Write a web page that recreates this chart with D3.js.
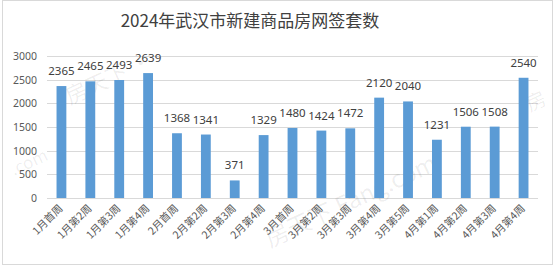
<!DOCTYPE html>
<html>
<head>
<meta charset="utf-8">
<script src="https://cdn.jsdelivr.net/npm/d3@7"></script>
<style>
  body { margin: 0; background: #fff; }
  svg { display: block; }
</style>
</head>
<body>
<div id="chart"></div>
<script>
// données
const titre = "2024年武汉市新建商品房网签套数";
const semaines = ["1月首周", "1月第2周", "1月第3周", "1月第4周", "2月首周", "2月第2周",
  "2月第3周", "2月第4周", "3月首周", "3月第2周", "3月第3周", "3月第4周", "3月第5周",
  "4月第1周", "4月第2周", "4月第3周", "4月第4周"];
const valeurs = [2365, 2465, 2493, 2639, 1368, 1341, 371, 1329, 1480, 1424, 1472, 2120, 2040,
  1231, 1506, 1508, 2540];
const ticksY = [0, 500, 1000, 1500, 2000, 2500, 3000];

const width = 555,
  height = 268;

const svg = d3.select("#chart").append("svg")
  .attr("width", width)
  .attr("height", height);

// cadre du graphique
svg.append("rect")
  .attr("x", 2.5).attr("y", 0.5)
  .attr("width", 550).attr("height", 264)
  .attr("fill", "#fff")
  .attr("stroke", "#d9d9d9");

// titre
svg.append("text")
  .attr("x", 250).attr("y", 27)
  .attr("text-anchor", "middle")
  .style("font-family", "'Noto Sans CJK SC', sans-serif")
  .style("font-size", "17px")
  .attr("fill", "#404040")
  .text(titre);

const x = d3.scaleBand()
  .domain(semaines)
  .range([47, 538])
  .paddingInner(0.66)
  .paddingOuter(0.33);

const y = d3.scaleLinear()
  .domain([0, 3000])
  .range([198, 56]);

// grille
svg.append("g")
  .selectAll("line")
  .data(ticksY)
  .enter()
  .append("line")
  .attr("x1", 47).attr("x2", 538)
  .attr("y1", d => Math.round(y(d)) + 0.5)
  .attr("y2", d => Math.round(y(d)) + 0.5)
  .attr("stroke", "#d9d9d9");

// axe Y
const axeY = svg.append("g")
  .attr("transform", "translate(37,0)")
  .call(d3.axisLeft(y).tickValues(ticksY).tickFormat(d3.format("d")).tickSize(0).tickPadding(0));
axeY.select(".domain").remove();
axeY.selectAll("text")
  .style("font-family", "'Noto Sans', sans-serif")
  .style("font-size", "10.5px")
  .attr("fill", "#595959");

// filigrane
const wm = svg.append("g")
  .style("font-family", "'Noto Sans CJK SC', sans-serif")
  .attr("fill", "#000")
  .attr("fill-opacity", 0.07);
wm.append("text").attr("transform", "translate(270,248) rotate(-25)")
  .style("font-size", "24px").text("房天下 Fang.com");
wm.append("text").attr("transform", "translate(70,105) rotate(-25)")
  .style("font-size", "22px").text("房天下 ·");
wm.append("text").attr("transform", "translate(14,176) rotate(-25)")
  .style("font-size", "17px").text(".com");
wm.append("text").attr("transform", "translate(530,112) rotate(-25)")
  .style("font-size", "20px").text("房");

// barres
svg.append("g")
  .selectAll("rect")
  .data(valeurs)
  .enter()
  .append("rect")
  .attr("x", (d, i) => x(semaines[i]))
  .attr("y", d => y(d))
  .attr("width", x.bandwidth())
  .attr("height", d => y(0) - y(d))
  .attr("fill", "#5b9bd5");

// étiquettes de valeurs
svg.append("g")
  .selectAll("text")
  .data(valeurs)
  .enter()
  .append("text")
  .attr("x", (d, i) => x(semaines[i]) + x.bandwidth() / 2)
  .attr("y", d => y(d) - 11)
  .attr("text-anchor", "middle")
  .style("font-family", "'Noto Sans', sans-serif")
  .style("font-size", "11.5px")
  .attr("fill", "#404040")
  .text(d => d);

// axe X (étiquettes inclinées)
svg.append("g")
  .selectAll("text")
  .data(semaines)
  .enter()
  .append("text")
  .attr("transform", d => "translate(" + (x(d) + x.bandwidth() / 2 + 2) + ",209) rotate(-45)")
  .attr("text-anchor", "end")
  .style("font-family", "'Noto Sans CJK SC', sans-serif")
  .style("font-size", "10.5px")
  .attr("fill", "#595959")
  .text(d => d);
</script>
</body>
</html>
